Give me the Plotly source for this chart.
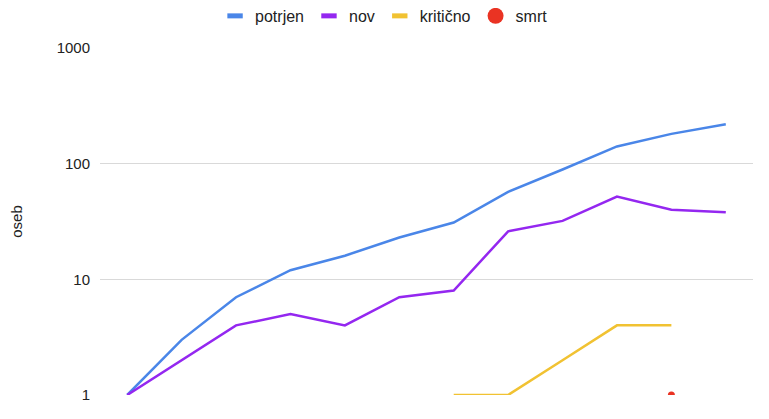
import plotly.graph_objects as go


# ==========================================================
# DATA
# ==========================================================

dnevi = ["4.3.", "5.3.", "6.3.", "7.3.", "8.3.", "9.3.",
         "10.3.", "11.3.", "12.3.", "13.3.", "14.3.", "15.3."]

potrjen = [1, 3, 7, 12, 16, 23, 31, 57, 89, 141, 181, 219]
nov = [1, 2, 4, 5, 4, 7, 8, 26, 32, 52, 40, 38]
kriticno = [None, None, None, None, None, None, 1, 1, 2, 4, 4, None]
smrt = [None, None, None, None, None, None, None, None, None, None, 1, None]

y_ticks = [1, 10, 100, 1000]
y_labels = ["1", "10", "100", "1000"]

series = [
    ("potrjen", potrjen, "#4A86E8"),
    ("nov", nov, "#9427F0"),
    ("kritično", kriticno, "#F1C232"),
]


# ==========================================================
# FIGURE
# ==========================================================

fig = go.Figure()

for name, values, color in series:

    # line on the chart
    fig.add_trace(go.Scatter(
        x=dnevi, y=values, name=name, mode="lines",
        line={"color": color, "width": 2.5},
        showlegend=False
    ))

    # short thick legend swatch
    fig.add_trace(go.Scatter(
        x=[None], y=[None], name=name, mode="markers",
        marker={"symbol": "line-ew", "size": 11,
                "line": {"color": color, "width": 5}}
    ))

fig.add_trace(go.Scatter(
    x=dnevi, y=smrt, name="smrt", mode="markers",
    marker={"color": "#EA3323", "size": 7},
    showlegend=False
))

fig.add_trace(go.Scatter(
    x=[None], y=[None], name="smrt", mode="markers",
    marker={"color": "#EA3323", "size": 16}
))

fig.update_layout(
    width=769,
    height=419,
    paper_bgcolor="white",
    plot_bgcolor="white",
    font={"family": "Liberation Sans, Arial, sans-serif", "size": 15, "color": "#222222"},
    margin=dict(l=92, r=24, t=40, b=32, autoexpand=False),
    showlegend=True,
    legend={
        "orientation": "h",
        "x": 0.435,
        "xanchor": "center",
        "y": 0.981,
        "yref": "container",
        "yanchor": "middle",
        "font": {"size": 16},
        "itemsizing": "trace",
        "itemwidth": 30
    }
)

fig.update_xaxes(
    type="category",
    range=[-0.5, len(dnevi) - 0.5],
    showticklabels=False,
    showgrid=False,
    zeroline=False,
    showline=False
)

fig.update_yaxes(
    type="log",
    range=[0, 3],
    tickvals=y_ticks,
    ticktext=y_labels,
    showgrid=True,
    gridcolor="#D9D9D9",
    gridwidth=1,
    zeroline=False,
    showline=False,
    ticks="outside",
    ticklen=6,
    tickcolor="rgba(0,0,0,0)",
    tickfont={"size": 15, "color": "#222222"},
    title={"text": "oseb", "font": {"size": 15}, "standoff": 30}
)

fig.write_html("out.html")
